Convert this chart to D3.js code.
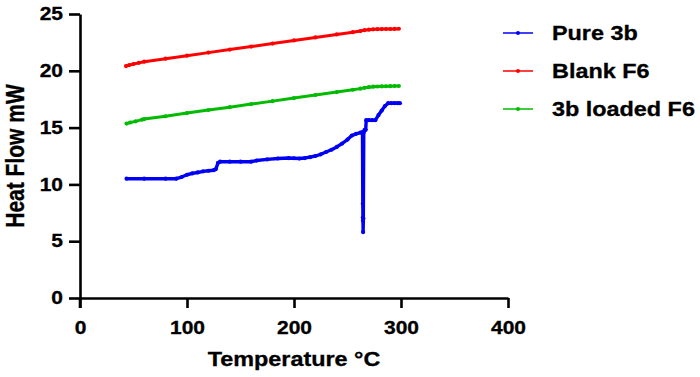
<!DOCTYPE html>
<html>
<head>
<meta charset="utf-8">
<script src="https://cdn.jsdelivr.net/npm/d3@7"></script>
<style>
  body { margin: 0; background: #fff; }
  text { font-family: Arial, "Liberation Sans", sans-serif; font-weight: bold; stroke: #000; stroke-width: 0.3px; }
</style>
</head>
<body>
<div id="chart"></div>
<script>
//--------------------------- Data

var seriesNames = ["Pure 3b", "Blank F6", "3b loaded F6"];
var seriesColors = ["#0000f5", "#ff0000", "#00bb00"];

var pureTemp = [43.5, 60, 80, 90, 95, 100, 105, 110, 115, 120, 125, 127, 129, 131, 140, 150, 160, 165, 175, 185, 195, 200, 205, 210,
                215, 220, 225, 230, 235, 240, 245, 250, 254, 258, 262, 264, 264.3, 264.4, 264.5, 264.6, 264.8, 265.2, 266, 267,
                267.5, 270, 273, 276, 279, 282, 285, 288, 291, 294, 297, 299];
var pureHeat = [10.5, 10.5, 10.5, 10.5, 10.65, 10.85, 10.97, 11.05, 11.15, 11.2, 11.25, 11.35, 11.9, 12.0, 12.0, 12.0, 12.0, 12.1, 12.2, 12.28, 12.32, 12.3, 12.28, 12.32,
                12.4, 12.5, 12.65, 12.85, 13.05, 13.3, 13.6, 13.95, 14.3, 14.45, 14.55, 14.6, 8.3, 7.1, 6.8, 5.8, 7.0, 14.6, 14.8, 14.8,
                15.65, 15.65, 15.65, 15.65, 16.1, 16.5, 16.9, 17.15, 17.15, 17.15, 17.15, 17.15];

var blankTemp = [43, 46, 50, 55, 60, 80, 100, 120, 140, 160, 180, 200, 220, 240, 255, 262, 266, 270, 274, 278, 282, 286, 290, 294, 298];
var blankHeat = [20.42, 20.5, 20.6, 20.7, 20.8, 21.07, 21.33, 21.6, 21.87, 22.13, 22.4, 22.67, 22.94, 23.2, 23.4, 23.5, 23.58, 23.62, 23.65, 23.66, 23.67, 23.68, 23.68, 23.69, 23.7];

var loadedTemp = [43.5, 47, 52, 58, 60, 80, 100, 120, 140, 160, 180, 200, 220, 240, 255, 262, 266, 270, 274, 278, 282, 286, 290, 294, 298];
var loadedHeat = [15.35, 15.45, 15.55, 15.7, 15.75, 16.0, 16.28, 16.55, 16.8, 17.07, 17.33, 17.6, 17.87, 18.13, 18.33, 18.43, 18.5, 18.56, 18.6, 18.62, 18.63, 18.64, 18.65, 18.66, 18.66];

var xTicks = [0, 100, 200, 300, 400];
var yTicks = [0, 5, 10, 15, 20, 25];

//--------------------------- SVG definition

var width = 700;
var height = 377;
var margin = { left: 80, top: 14, plotW: 428, plotH: 284 };
var stretch = 1.2;   // the picture's text is a little wide

var svg = d3.select("#chart")
    .append("svg")
    .attr("width", width)
    .attr("height", height);

var x = d3.scaleLinear().domain([0, 400]).range([margin.left, margin.left + margin.plotW]);
var y = d3.scaleLinear().domain([0, 25]).range([margin.top + margin.plotH, margin.top]);

//--------------------------- Axes

var xAxis = svg.append("g")
    .attr("transform", "translate(0," + y(0) + ")")
    .call(d3.axisBottom(x).tickValues(xTicks).tickSize(10).tickPadding(14).tickSizeOuter(0));

var yAxis = svg.append("g")
    .attr("transform", "translate(" + x(0) + ",0)")
    .call(d3.axisLeft(y).tickValues(yTicks).tickSize(11).tickPadding(6).tickSizeOuter(0));

[xAxis, yAxis].forEach(function (ax) {
    ax.select(".domain").attr("stroke", "#000").attr("stroke-width", 2.6);
    ax.selectAll(".tick line").attr("stroke", "#000").attr("stroke-width", 2.6);
    ax.selectAll(".tick text")
        .attr("font-size", 17.5)
        .attr("fill", "#000");
});

xAxis.selectAll(".tick text").attr("transform", "scale(" + stretch + ",1)");
yAxis.selectAll(".tick text")
    .attr("x", -17 / stretch)
    .attr("transform", "scale(" + stretch + ",1)");

// y axis line runs down to the x tick length, like the picture
yAxis.append("line")
    .attr("x1", 0).attr("x2", 0)
    .attr("y1", y(0)).attr("y2", y(0) + 10)
    .attr("stroke", "#000").attr("stroke-width", 2.6);

//--------------------------- Axis titles

svg.append("text")
    .attr("transform", "translate(" + (margin.left + margin.plotW / 2) + ",366) scale(" + stretch + ",1)")
    .attr("text-anchor", "middle")
    .attr("font-size", 19.5)
    .text("Temperature °C");

svg.append("text")
    .attr("transform", "translate(24," + (margin.top + margin.plotH / 2) + ") scale(" + stretch + ",1) rotate(-90)")
    .attr("text-anchor", "middle")
    .attr("font-size", 21)
    .text("Heat Flow mW");

//--------------------------- Lines with small markers

var series = [
    { name: seriesNames[0], t: pureTemp, v: pureHeat, color: seriesColors[0], w: 3.4 },
    { name: seriesNames[1], t: blankTemp, v: blankHeat, color: seriesColors[1], w: 3 },
    { name: seriesNames[2], t: loadedTemp, v: loadedHeat, color: seriesColors[2], w: 3 }
];

var line = d3.line()
    .x(function (d) { return x(d[0]); })
    .y(function (d) { return y(d[1]); });

series.forEach(function (s) {
    var pts = s.t.map(function (t, i) { return [t, s.v[i]]; });

    svg.append("path")
        .datum(pts)
        .attr("d", line)
        .attr("fill", "none")
        .attr("stroke", s.color)
        .attr("stroke-width", s.w)
        .attr("stroke-linejoin", "round");

    svg.append("g").selectAll("circle").data(pts).enter()
        .append("circle")
        .attr("cx", function (d) { return x(d[0]); })
        .attr("cy", function (d) { return y(d[1]); })
        .attr("r", 2.1)
        .attr("fill", s.color);
});

//--------------------------- Legend

var legend = svg.append("g");

series.forEach(function (s, k) {
    var ly = 33 + k * 38;

    legend.append("line")
        .attr("x1", 503).attr("x2", 533)
        .attr("y1", ly).attr("y2", ly)
        .attr("stroke", s.color)
        .attr("stroke-width", 1.5);

    legend.append("circle")
        .attr("cx", 518).attr("cy", ly)
        .attr("r", 2)
        .attr("fill", s.color);

    legend.append("text")
        .attr("transform", "translate(552," + (ly + 7) + ") scale(" + stretch + ",1)")
        .attr("font-size", 19.5)
        .attr("fill", "#000")
        .text(s.name);
});
</script>
</body>
</html>
